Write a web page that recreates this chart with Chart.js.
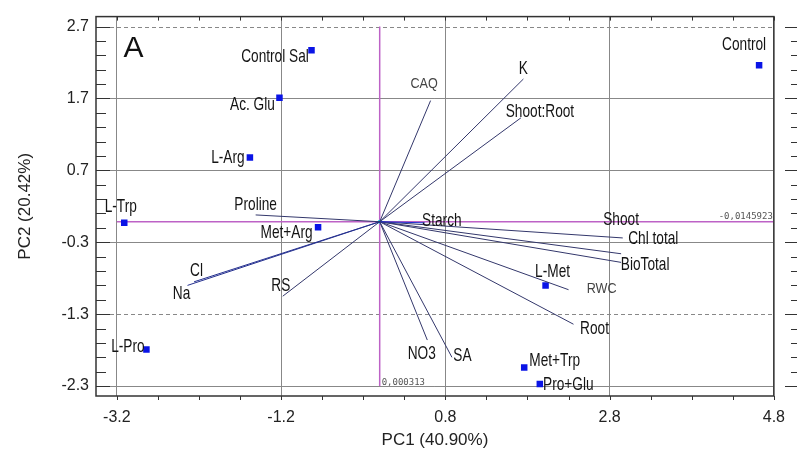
<!DOCTYPE html>
<html>
<head>
<meta charset="utf-8">
<script src="https://cdn.jsdelivr.net/npm/chart.js@4.4.1/dist/chart.umd.min.js"></script>
<style>
  html, body { margin: 0; padding: 0; background: #ffffff; }
  #wrap { width: 797px; height: 451px; }
</style>
</head>
<body>
<div id="wrap"><canvas id="c" width="797" height="451"></canvas></div>
<script>
// ---------------- DATA ----------------
// Observations (treatments) : scores on PC1 / PC2
const obsLabels = ['Control Sal', 'Ac. Glu', 'L-Arg', 'L-Trp', 'Met+Arg', 'L-Pro', 'Control', 'L-Met', 'Met+Trp', 'Pro+Glu'];
const obsPC1    = [-0.83, -1.22, -1.58, -3.11, -0.75, -2.84, 4.62, 2.02, 1.76, 1.95];
const obsPC2    = [ 2.37,  1.71,  0.88, -0.03, -0.09, -1.79, 2.16, -0.90, -2.04, -2.27];

// Variables : loading vector end points on PC1 / PC2
const varLabels = ['CAQ', 'K', 'Shoot:Root', 'Starch', 'Shoot', 'Chl total', 'BioTotal', 'RWC', 'Root', 'NO3', 'SA', 'Proline', 'Cl', 'Na', 'RS'];
const varPC1    = [0.62, 1.75, 1.72, 0.55, 2.94, 2.96, 2.94, 2.30, 2.36, 0.58, 0.88, -1.51, -2.26, -2.34, -1.18];
const varPC2    = [1.67, 1.97, 1.43, -0.03, -0.46, -0.24, -0.58, -0.96, -1.44, -1.66, -1.90, 0.08, -0.85, -0.90, -1.05];

// Reference (centre) lines
const refPC1 = 0.000313;
const refPC2 = -0.0145923;

// Axis ticks
const xTicks = [-3.2, -1.2, 0.8, 2.8, 4.8];
const yTicks = [-2.3, -1.3, -0.3, 0.7, 1.7, 2.7];
const yDashed = [2.7, -1.3];

// ---------------- STYLE / LAYOUT ----------------
const FONT = "'Liberation Sans', Arial, sans-serif";
const NARROW = "'Liberation Sans Narrow', 'Arial Narrow', 'Liberation Sans', sans-serif";
// label offsets (px, label centre relative to the mark)
const obsLabelOffset = {
  'Control Sal': [-36.5, 6.5], 'Ac. Glu': [-27, 7.5], 'L-Arg': [-22, 0], 'L-Trp': [-3.5, -16.5],
  'Met+Arg': [-31.5, 6], 'L-Pro': [-18.5, -2.5], 'Control': [-15, -21], 'L-Met': [7, -13.5],
  'Met+Trp': [30.5, -6.5], 'Pro+Glu': [28.5, 1]
};
const varLabelOffset = {
  'CAQ': [-6.5, -16], 'K': [0, -10.5], 'Shoot:Root': [19, -6], 'Starch': [17, -2.5], 'Shoot': [0, -33.5],
  'Chl total': [30.5, 0.5], 'BioTotal': [24, 2.5], 'RWC': [33, -0.5], 'Root': [21, 4.5], 'NO3': [-5.5, 13.5],
  'SA': [10.5, -2], 'Proline': [0, -10.5], 'Cl': [2.5, -11], 'Na': [-6, 8.5], 'RS': [-2, -10.5]
};
const smallVarLabels = ['CAQ', 'RWC'];
const vecColor = name => (name === 'Starch' ? '#1f2fd0' : (name === 'Na' || name === 'Cl') ? '#25308f' : '#33376b');

function drawText(ctx, text, cx, cy, font, sx, color) {
  ctx.save();
  ctx.translate(cx, cy);
  ctx.scale(sx, 1);
  ctx.font = font;
  ctx.fillStyle = color;
  ctx.textAlign = 'center';
  ctx.textBaseline = 'middle';
  ctx.fillText(text, 0, 0);
  ctx.restore();
}

const decor = {
  id: 'pcaDecor',
  beforeDatasetsDraw(chart) {
    const { ctx, chartArea: a, scales: { x, y } } = chart;
    ctx.save();
    // dashed grid lines
    ctx.strokeStyle = '#888';
    ctx.lineWidth = 1;
    ctx.setLineDash([4, 3]);
    yDashed.forEach(v => {
      const py = Math.round(y.getPixelForValue(v)) + 0.5;
      ctx.beginPath(); ctx.moveTo(a.left, py); ctx.lineTo(a.right, py); ctx.stroke();
    });
    ctx.setLineDash([]);
    // magenta reference lines
    const hy = y.getPixelForValue(refPC2);
    const vx = x.getPixelForValue(refPC1);
    ctx.strokeStyle = '#bd62c6';
    ctx.lineWidth = 1.5;
    ctx.beginPath(); ctx.moveTo(x.getPixelForValue(xTicks[0]), hy); ctx.lineTo(a.right, hy); ctx.stroke();
    ctx.beginPath(); ctx.moveTo(vx, y.getPixelForValue(yTicks[yTicks.length - 1])); ctx.lineTo(vx, y.getPixelForValue(yTicks[0])); ctx.stroke();
    // values of reference lines
    ctx.font = "9px 'DejaVu Sans Mono', monospace";
    ctx.fillStyle = '#555';
    ctx.textAlign = 'right';
    ctx.textBaseline = 'alphabetic';
    ctx.fillText('-0,0145923', a.right - 1, hy - 3);
    ctx.textAlign = 'left';
    ctx.fillText('0,000313', vx + 2, y.getPixelForValue(yTicks[0]) - 1);
    ctx.restore();
  },
  afterDatasetsDraw(chart) {
    const { ctx, chartArea: a, scales: { x, y } } = chart;
    ctx.save();
    // variable labels
    varLabels.forEach((n, i) => {
      const o = varLabelOffset[n];
      const px = x.getPixelForValue(varPC1[i]) + o[0];
      const py = y.getPixelForValue(varPC2[i]) + o[1];
      if (smallVarLabels.includes(n)) drawText(ctx, n, px, py, '14px ' + FONT, 0.9, '#444');
      else drawText(ctx, n, px, py, '19px ' + FONT, 0.72, '#141414');
    });
    // observation labels
    obsLabels.forEach((n, i) => {
      const o = obsLabelOffset[n];
      drawText(ctx, n, x.getPixelForValue(obsPC1[i]) + o[0], y.getPixelForValue(obsPC2[i]) + o[1], '19px ' + FONT, 0.72, '#141414');
    });
    // panel letter
    drawText(ctx, 'A', a.left + 37.5, a.top + 32, '30px ' + FONT, 1, '#111');

    // frame
    ctx.strokeStyle = '#333';
    ctx.lineWidth = 1.5;
    ctx.strokeRect(a.left, a.top, a.right - a.left, a.bottom - a.top);

    // minor / major ticks
    ctx.lineWidth = 1;
    ctx.strokeStyle = '#333';
    const y0 = yTicks[0], y1 = yTicks[yTicks.length - 1];
    for (let k = 0; k <= Math.round((y1 - y0) / 0.2); k++) {
      const v = y0 + k * 0.2;
      const py = Math.round(y.getPixelForValue(v)) + 0.5;
      const major = k % 5 === 0;
      ctx.beginPath();
      ctx.moveTo(a.left, py); ctx.lineTo(a.left + (major ? 14 : 10), py);
      ctx.moveTo(chart.width, py); ctx.lineTo(chart.width - (major ? 12 : 6), py);
      ctx.stroke();
    }
    const x0 = xTicks[0], x1 = xTicks[xTicks.length - 1];
    for (let k = 0; k <= Math.round((x1 - x0) / 0.5); k++) {
      const v = x0 + k * 0.5;
      const px = Math.round(x.getPixelForValue(v)) + 0.5;
      ctx.beginPath();
      ctx.moveTo(px, a.top); ctx.lineTo(px, a.top + 4);
      ctx.moveTo(px, a.bottom); ctx.lineTo(px, a.bottom + 4);
      ctx.stroke();
    }
    ctx.restore();
  }
};

// ---------------- DATASETS ----------------
const datasets = [];
varLabels.forEach((n, i) => {
  datasets.push({
    type: 'scatter',
    label: n,
    data: [{ x: refPC1, y: refPC2 }, { x: varPC1[i], y: varPC2[i] }],
    showLine: true,
    borderColor: vecColor(n),
    borderWidth: 1,
    pointRadius: 0,
    fill: false
  });
});
datasets.push({
  type: 'scatter',
  label: 'origin',
  data: [{ x: refPC1, y: refPC2 }],
  pointRadius: 2,
  pointBackgroundColor: '#22d3f0',
  pointBorderWidth: 0
});
datasets.push({
  type: 'scatter',
  label: 'Treatments',
  data: obsPC1.map((v, i) => ({ x: v, y: obsPC2[i] })),
  pointStyle: 'rect',
  pointRadius: 4.6,
  pointBackgroundColor: '#0a14e6',
  pointBorderWidth: 0
});

new Chart(document.getElementById('c'), {
  type: 'scatter',
  data: { datasets },
  plugins: [decor],
  options: {
    responsive: false,
    animation: false,
    devicePixelRatio: 1,
    layout: { padding: { top: 14, right: 18, left: 0, bottom: 0 } },
    plugins: { legend: { display: false }, tooltip: { enabled: false } },
    scales: {
      x: {
        type: 'linear',
        min: -3.454,
        max: 4.8,
        afterBuildTicks: s => { s.ticks = xTicks.map(v => ({ value: v })); },
        afterFit: s => { s.height = 55; },
        grid: { color: '#888', lineWidth: 1, drawTicks: false },
        border: { display: false },
        ticks: {
          autoSkip: false, maxRotation: 0,
          padding: 12,
          color: '#222',
          font: { family: NARROW, size: 16 },
          callback: v => Number(v).toFixed(1)
        },
        title: {
          display: true,
          text: 'PC1 (40.90%)',
          color: '#222',
          font: { family: NARROW, size: 17 },
          padding: { top: 0, bottom: 0 }
        }
      },
      y: {
        type: 'linear',
        min: -2.438,
        max: 2.838,
        afterBuildTicks: s => { s.ticks = yTicks.map(v => ({ value: v })); },
        afterFit: s => { s.width = 96; },
        grid: {
          drawTicks: false,
          lineWidth: 1,
          color: c => (c.tick && yDashed.some(d => Math.abs(d - c.tick.value) < 1e-6)) ? 'rgba(0,0,0,0)' : '#888'
        },
        border: { display: false },
        ticks: {
          autoSkip: false,
          padding: 7,
          color: '#222',
          font: { family: NARROW, size: 16 },
          callback: v => Number(v).toFixed(1)
        },
        title: {
          display: true,
          text: 'PC2 (20.42%)',
          color: '#222',
          font: { family: NARROW, size: 17 },
          padding: { top: 15, bottom: 0 }
        }
      }
    }
  }
});
</script>
</body>
</html>
